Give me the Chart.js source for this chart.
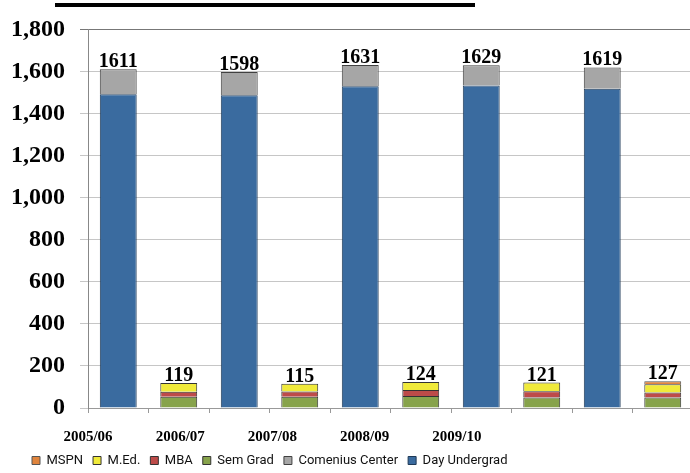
<!DOCTYPE html>
<html>
<head>
<meta charset="utf-8">
<script src="https://cdn.jsdelivr.net/npm/chart.js@4/dist/chart.umd.min.js"></script>
<style>
  html, body { margin: 0; padding: 0; overflow: hidden; background: #fff; }
  #wrap { position: relative; width: 693px; height: 477px; }
</style>
</head>
<body>
<div id="wrap"><canvas id="enrollment-chart"></canvas></div>
<script>
// headcount per academic year
const years = ['2005/06', '2006/07', '2007/08', '2008/09', '2009/10'];
const dayUndergrad = [1492, 1487, 1530, 1533, 1518];
const comenius = [119, 111, 101, 96, 101];
const semGrad = [53, 53, 57, 50, 50];
const mba = [24, 26, 29, 30, 24];
const mEd = [42, 36, 38, 41, 39];
const mspn = [0, 0, 0, 0, 14];

// each year gets two bar slots: undergrad programs, then graduate programs
const slots = years.flatMap(y => [y + ' undergrad', y + ' graduate']);
const undergradSlots = arr => arr.flatMap(v => [v || null, null]);
const gradSlots = arr => arr.flatMap(v => [null, v || null]);

// year captions run on their own spacing, in units of one caption step
const captionAxisMax = 6.56;

const serif = '"Liberation Serif", "Times New Roman", serif';

function series(label, data, fill, edge) {
    return {
        label: label,
        data: data,
        backgroundColor: fill,
        borderColor: edge,
        borderWidth: 1,
        barPercentage: 0.61,
        categoryPercentage: 1
    };
}

// thick rule under the slide heading
const headerRule = {
    id: 'headerRule',
    beforeDraw(chart) {
        const ctx = chart.ctx;
        ctx.save();
        ctx.fillStyle = '#000';
        ctx.fillRect(55, 3, 420, 4);
        ctx.restore();
    }
};

// indent the legend row a little from the left edge
const legendInset = {
    id: 'legendInset',
    afterLayout(chart) {
        const lg = chart.legend;
        if (!lg) return;
        lg.left += 22;
        lg.right += 22;
    }
};

// stack totals printed above every bar
const totalLabels = {
    id: 'totalLabels',
    afterDatasetsDraw(chart) {
        const ctx = chart.ctx;
        const x = chart.scales.x;
        const y = chart.scales.y;
        ctx.save();
        ctx.font = 'bold 20px ' + serif;
        ctx.fillStyle = '#000';
        ctx.textAlign = 'center';
        ctx.textBaseline = 'alphabetic';
        chart.data.labels.forEach((_, i) => {
            const total = chart.data.datasets.reduce((s, ds) => s + (ds.data[i] || 0), 0);
            if (!total) return;
            ctx.fillText(String(total), x.getPixelForValue(i), y.getPixelForValue(total) - 2);
        });
        ctx.restore();
    }
};

const ctx = document.getElementById('enrollment-chart').getContext('2d');
new Chart(ctx, {
    type: 'bar',
    data: {
        labels: slots,
        datasets: [
            series('Day Undergrad', undergradSlots(dayUndergrad), '#3a6b9f', '#1e3957'),
            series('Comenius Center', undergradSlots(comenius), '#a6a6a6', '#404040'),
            series('Sem Grad', gradSlots(semGrad), '#87a34b', '#333'),
            series('MBA', gradSlots(mba), '#bd4b49', '#333'),
            series('M.Ed.', gradSlots(mEd), '#f0ea3a', '#333'),
            series('MSPN', gradSlots(mspn), '#e0843c', '#555')
        ]
    },
    plugins: [headerRule, legendInset, totalLabels],
    options: {
        responsive: true,
        maintainAspectRatio: false,
        animation: false,
        locale: 'en-US',
        layout: { padding: { left: 0, top: 17, right: 0, bottom: 0 } },
        plugins: {
            legend: {
                position: 'bottom',
                align: 'start',
                reverse: true,
                labels: {
                    boxWidth: 8,
                    boxHeight: 8,
                    padding: 10,
                    color: '#111',
                    font: { family: 'Roboto', size: 13 }
                }
            },
            tooltip: { enabled: false }
        },
        scales: {
            x: {
                stacked: true,
                grid: { display: true, drawOnChartArea: false, drawTicks: true, tickLength: 5, color: '#999' },
                border: { display: true, color: '#999' },
                ticks: { display: false },
                afterFit(s) { s.height = 5; }
            },
            captions: {
                axis: 'x',
                type: 'linear',
                position: 'bottom',
                weight: 1,
                offset: false,
                min: 0,
                max: captionAxisMax,
                grid: { display: false, drawTicks: false },
                border: { display: false },
                afterBuildTicks(s) { s.ticks = years.map((_, i) => ({ value: i })); },
                ticks: {
                    autoSkip: false,
                    maxRotation: 0,
                    padding: 15,
                    color: '#000',
                    font: { family: serif, weight: 'bold', size: 15 },
                    callback: v => years[v]
                },
                afterFit(s) { s.height = 31; }
            },
            y: {
                stacked: true,
                min: 0,
                max: 1800,
                ticks: {
                    stepSize: 200,
                    padding: 15,
                    color: '#000',
                    font: { family: serif, weight: 'bold', size: 24 }
                },
                grid: {
                    color: c => (c.tick && c.tick.value === 1800) ? '#777' : '#c6c6c6',
                    tickLength: 8
                },
                border: { color: '#888' },
                afterFit(s) { s.width = 88; }
            }
        }
    }
});
</script>
</body>
</html>
